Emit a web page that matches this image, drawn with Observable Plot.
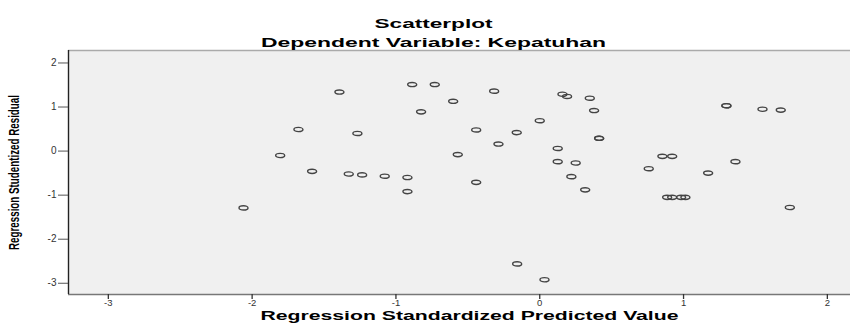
<!DOCTYPE html>
<html>
<head>
<meta charset="utf-8">
<script src="https://cdn.jsdelivr.net/npm/d3@7"></script>
<script src="https://cdn.jsdelivr.net/npm/@observablehq/plot@0.6"></script>
<style>
  html, body { margin: 0; padding: 0; background: #fff; }
  svg { display: block; }
</style>
</head>
<body>
<div id="chart"></div>
<script>
// ---- data ----
const titleText = "Scatterplot";
const subtitleText = "Dependent Variable: Kepatuhan";
const xLabel = "Regression Standardized Predicted Value";
const yLabel = "Regression Studentized Residual";

const predicted = [-2.06, -1.805, -1.678, -1.583, -1.393, -1.328, -1.268, -1.235, -1.078, -0.92, -0.92, -0.887, -0.73, -0.825, -0.602, -0.317, -0.442, -0.570, -0.287, -0.160, -0.442, 0.00, 0.158, 0.19, 0.348, 0.378, 0.413, 0.413, 0.125, 0.125, 0.25, 0.22, 0.316, 0.758, 0.853, 0.921, 1.298, 1.298, 1.549, 1.676, 1.361, 1.171, 0.886, 0.921, 0.983, 1.013, 1.739, -0.157, 0.033];
const residual = [-1.29, -0.10, 0.49, -0.46, 1.34, -0.52, 0.40, -0.54, -0.57, -0.60, -0.92, 1.51, 1.51, 0.89, 1.13, 1.36, 0.48, -0.08, 0.16, 0.42, -0.71, 0.69, 1.29, 1.24, 1.20, 0.92, 0.29, 0.29, 0.06, -0.24, -0.27, -0.58, -0.88, -0.40, -0.12, -0.12, 1.03, 1.03, 0.95, 0.93, -0.24, -0.50, -1.05, -1.05, -1.05, -1.05, -1.28, -2.56, -2.92];

const xTicks = [-3, -2, -1, 0, 1, 2];
const yTicks = [-3, -2, -1, 0, 1, 2];
const xDomain = [-3.277, 2.161];
const yDomain = [-3.255, 2.283];

const points = predicted.map((x, i) => ({x, y: residual[i]}));

// elliptical open marker (SPSS style, horizontally stretched)
const k = 0.5523;
const ellipse = {
  draw(ctx) {
    const rx = 4.5, ry = 2.1;
    ctx.moveTo(rx, 0);
    ctx.bezierCurveTo(rx, ry * k, rx * k, ry, 0, ry);
    ctx.bezierCurveTo(-rx * k, ry, -rx, ry * k, -rx, 0);
    ctx.bezierCurveTo(-rx, -ry * k, -rx * k, -ry, 0, -ry);
    ctx.bezierCurveTo(rx * k, -ry, rx, -ry * k, rx, 0);
    ctx.closePath();
  }
};

const fmt = d => String(d);

const chart = Plot.plot({
  width: 850,
  height: 325,
  marginLeft: 68,
  marginRight: 0,
  marginTop: 50,
  marginBottom: 31,
  style: {fontFamily: "Liberation Sans, Arial, sans-serif", background: "#fff"},
  x: {domain: xDomain, ticks: xTicks},
  y: {domain: yDomain, ticks: yTicks},
  marks: [
    Plot.frame({fill: "#f0f0f0", stroke: null}),
    Plot.ruleY([yDomain[1]], {stroke: "#aaa", strokeWidth: 1.5}),
    Plot.ruleY([yDomain[0]], {stroke: "#777", strokeWidth: 1.3}),
    Plot.ruleX([xDomain[0]], {stroke: "#222", strokeWidth: 1.4}),
    Plot.axisX(xTicks, {tickSize: 5, tickPadding: 0, tickFormat: fmt, fontSize: 9.5, fill: "#333", stroke: "#333", strokeWidth: 1.3, label: null}),
    Plot.axisY(yTicks, {tickSize: 10, tickPadding: 2, tickFormat: fmt, fontSize: 10, fill: "#333", stroke: "#555", label: null}),
    Plot.dot(points, {x: "x", y: "y", symbol: ellipse, r: 4, fill: "none", stroke: "#444", strokeWidth: 1.4}),
    Plot.text([titleText], {frameAnchor: "top", dx: -26, dy: -31, text: d => d, fontSize: 12, fontWeight: "bold", fill: "#000"}),
    Plot.text([subtitleText], {frameAnchor: "top", dx: -26, dy: -12, text: d => d, fontSize: 12, fontWeight: "bold", fill: "#000"}),
    Plot.text([xLabel], {frameAnchor: "bottom", dx: 10, dy: 25, text: d => d, fontSize: 12, fontWeight: "bold", fill: "#000"}),
    Plot.text([yLabel], {frameAnchor: "left", textAnchor: "middle", dx: -54, rotate: -90, text: d => d, fontSize: 14, fontWeight: "bold", fill: "#000"})
  ]
});

// stretch/condense texts to match the reference's distorted rendering
const lengths = new Map([[titleText, 118], [subtitleText, 345], [xLabel, 418], [yLabel, 155]]);
d3.select(chart).selectAll("text").each(function () {
  const t = this.textContent;
  if (lengths.has(t)) {
    d3.select(this).attr("textLength", lengths.get(t)).attr("lengthAdjust", "spacingAndGlyphs");
  }
});

document.getElementById("chart").appendChild(chart);
</script>
</body>
</html>
